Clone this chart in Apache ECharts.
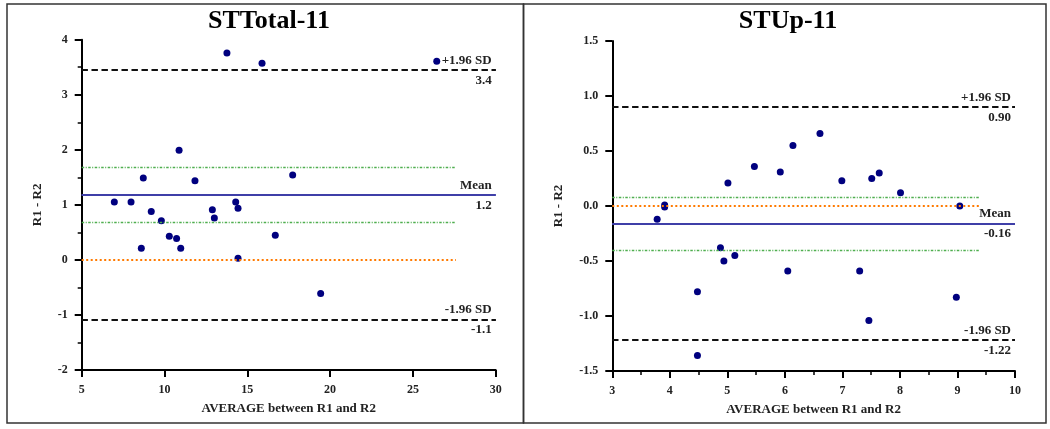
<!DOCTYPE html>
<html>
<head>
<meta charset="utf-8">
<script src="https://cdn.jsdelivr.net/npm/echarts@6/dist/echarts.min.js"></script>
<style>
html,body{margin:0;padding:0;background:#fff;}
#chart{width:1050px;height:429px;}
</style>
</head>
<body>
<div id="chart"></div>
<script>
// ---- Data ----
const titles = ['STTotal-11', 'STUp-11'];

const stTotalAvg  = [13.77, 15.89, 26.44, 10.88, 8.72, 11.84, 17.74, 6.97, 7.98, 9.20, 9.81, 12.89, 13.01, 14.30, 14.44, 10.29, 10.73, 8.60, 10.98, 14.44, 16.69, 19.43];
const stTotalDiff = [3.76, 3.57, 3.61, 1.99, 1.49, 1.44, 1.54, 1.05, 1.05, 0.88, 0.71, 0.91, 0.76, 1.05, 0.94, 0.43, 0.39, 0.21, 0.21, 0.03, 0.45, -0.61];

const stUpAvg  = [3.78, 3.91, 3.91, 4.48, 4.48, 4.88, 4.94, 5.13, 5.01, 5.47, 5.92, 6.14, 6.05, 6.61, 6.99, 7.30, 7.46, 7.51, 7.64, 8.01, 8.98, 9.04];
const stUpDiff = [-0.12, 0.01, -0.01, -0.78, -1.36, -0.38, -0.50, -0.45, 0.21, 0.36, 0.31, 0.55, -0.59, 0.66, 0.23, -0.59, -1.04, 0.25, 0.30, 0.12, -0.83, 0.00];

// limits: [upper SD, mean, lower SD]
const stTotalLimits = [3.45, 1.18, -1.08];
const stTotalLimitLabels = ['3.4', '1.2', '-1.1'];
const stTotalCI = [1.69, 0.68];
const stUpLimits = [0.90, -0.16, -1.22];
const stUpLimitLabels = ['0.90', '-0.16', '-1.22'];
const stUpCI = [0.082, -0.40];

const stTotalXAxis = {min: 5, max: 30, interval: 5, shortEnd: 27.6};
const stTotalYAxis = {min: -2, max: 4, interval: 1};
const stUpXAxis = {min: 3, max: 10, interval: 1, shortEnd: 9.38};
const stUpYAxis = {min: -1.5, max: 1.5, interval: 0.5};

const limitNames = ['+1.96 SD', 'Mean', '-1.96 SD'];
const xName = 'AVERAGE between R1 and R2';
const yName = 'R1 - R2';

// ---- Styles ----
const FONT = '"Liberation Serif", "Times New Roman", serif';
const sdStyle = {color: '#111', width: 2, type: [6, 4]};
const meanStyle = {color: '#3f3fa8', width: 2.2, type: 'solid'};
const ciStyle = {color: '#4fae4f', width: 1.4, type: [2.5, 1.5, 1, 1.5]};
const zeroStyle = {color: '#ff7a00', width: 2, type: [2, 2.5]};
const lblFont = {fontFamily: FONT, fontWeight: 'bold', fontSize: 13, color: '#222'};

function buildMarkLines(xa, limits, limitLabels, ci) {
  const data = [];
  const styles = [sdStyle, meanStyle, sdStyle];
  ci.forEach(v => {
    data.push([{coord: [xa.min, v], lineStyle: ciStyle, label: {show: false}}, {coord: [xa.shortEnd, v]}]);
  });
  data.push([{coord: [xa.min, 0], lineStyle: zeroStyle, label: {show: false}}, {coord: [xa.shortEnd, 0]}]);
  limits.forEach((v, i) => {
    data.push([
      {coord: [xa.min, v], lineStyle: styles[i],
       label: Object.assign({show: true, position: 'insideEndTop', formatter: limitNames[i], distance: [4, 3]}, lblFont)},
      {coord: [xa.max, v]}
    ]);
    data.push([
      {coord: [xa.min, v], lineStyle: styles[i],
       label: Object.assign({show: true, position: 'insideEndBottom', formatter: limitLabels[i], distance: [4, 4]}, lblFont)},
      {coord: [xa.max, v]}
    ]);
  });
  return {silent: true, symbol: 'none', animation: false, data: data};
}

function xAxisCfg(gi, xa, minor, nameGap) {
  return {
    type: 'value', gridIndex: gi, min: xa.min, max: xa.max, interval: xa.interval,
    name: xName, nameLocation: 'middle', nameGap: nameGap,
    nameTextStyle: {fontFamily: FONT, fontWeight: 'bold', fontSize: 13, color: '#222'},
    axisLine: {show: true, onZero: false, lineStyle: {color: '#000', width: 2}},
    axisTick: {show: true, inside: false, length: 7, lineStyle: {color: '#000', width: 2}},
    minorTick: {show: minor, splitNumber: 2, length: 4, lineStyle: {color: '#000', width: 1.5}},
    splitLine: {show: false}, minorSplitLine: {show: false},
    axisLabel: {margin: 14, fontFamily: FONT, fontWeight: 'bold', fontSize: 12, color: '#222'}
  };
}
function yAxisCfg(gi, ya, minor, nameGap, fmt) {
  return {
    type: 'value', gridIndex: gi, min: ya.min, max: ya.max, interval: ya.interval,
    name: yName, nameLocation: 'middle', nameGap: nameGap, nameRotate: 90,
    nameTextStyle: {fontFamily: FONT, fontWeight: 'bold', fontSize: 13, color: '#222'},
    axisLine: {show: true, onZero: false, lineStyle: {color: '#000', width: 2}},
    axisTick: {show: true, inside: false, length: 7, lineStyle: {color: '#000', width: 2}},
    minorTick: {show: minor, splitNumber: 2, length: 4, lineStyle: {color: '#000', width: 1.5}},
    splitLine: {show: false}, minorSplitLine: {show: false},
    axisLabel: {margin: 14, fontFamily: FONT, fontWeight: 'bold', fontSize: 12, color: '#222', formatter: fmt}
  };
}

const chart = echarts.init(document.getElementById('chart'), null, {renderer: 'canvas'});
chart.setOption({
  animation: false,
  backgroundColor: '#fff',
  title: [
    {text: titles[0], left: 264, top: 3, textAlign: 'center',
     textStyle: {fontFamily: FONT, fontWeight: 'bold', fontSize: 26, color: '#000'}},
    {text: titles[1], left: 783, top: 3, textAlign: 'center',
     textStyle: {fontFamily: FONT, fontWeight: 'bold', fontSize: 26, color: '#000'}}
  ],
  graphic: [
    {type: 'rect', shape: {x: 7, y: 4, width: 516.5, height: 419}, style: {fill: 'none', stroke: '#333', lineWidth: 1.5}, silent: true},
    {type: 'rect', shape: {x: 523.5, y: 4, width: 522.5, height: 419}, style: {fill: 'none', stroke: '#333', lineWidth: 1.5}, silent: true}
  ],
  grid: [
    {left: 81.7, top: 39.7, width: 414, height: 330.3, containLabel: false},
    {left: 612.3, top: 41, width: 402.7, height: 330, containLabel: false}
  ],
  xAxis: [
    xAxisCfg(0, stTotalXAxis, false, 32),
    xAxisCfg(1, stUpXAxis, true, 32)
  ],
  yAxis: [
    yAxisCfg(0, stTotalYAxis, true, 38, v => String(v)),
    yAxisCfg(1, stUpYAxis, false, 47, v => v.toFixed(1))
  ],
  series: [
    {type: 'scatter', xAxisIndex: 0, yAxisIndex: 0, symbolSize: 7, z: 1,
     itemStyle: {color: '#00007f', opacity: 1},
     data: stTotalAvg.map((x, i) => [x, stTotalDiff[i]]),
     markLine: buildMarkLines(stTotalXAxis, stTotalLimits, stTotalLimitLabels, stTotalCI)},
    {type: 'scatter', xAxisIndex: 1, yAxisIndex: 1, symbolSize: 7, z: 1,
     itemStyle: {color: '#00007f', opacity: 1},
     data: stUpAvg.map((x, i) => [x, stUpDiff[i]]),
     markLine: buildMarkLines(stUpXAxis, stUpLimits, stUpLimitLabels, stUpCI)}
  ]
});
</script>
</body>
</html>
